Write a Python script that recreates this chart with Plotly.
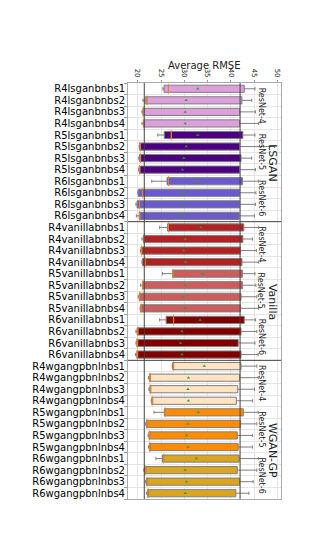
import plotly.graph_objects as go

# row labels, top to bottom
names = [
    "R4lsganbnbs1", "R4lsganbnbs2", "R4lsganbnbs3", "R4lsganbnbs4",
    "R5lsganbnbs1", "R5lsganbnbs2", "R5lsganbnbs3", "R5lsganbnbs4",
    "R6lsganbnbs1", "R6lsganbnbs2", "R6lsganbnbs3", "R6lsganbnbs4",
    "R4vanillabnbs1", "R4vanillabnbs2", "R4vanillabnbs3", "R4vanillabnbs4",
    "R5vanillabnbs1", "R5vanillabnbs2", "R5vanillabnbs3", "R5vanillabnbs4",
    "R6vanillabnbs1", "R6vanillabnbs2", "R6vanillabnbs3", "R6vanillabnbs4",
    "R4wgangpbnlnbs1", "R4wgangpbnlnbs2", "R4wgangpbnlnbs3", "R4wgangpbnlnbs4",
    "R5wgangpbnlnbs1", "R5wgangpbnlnbs2", "R5wgangpbnlnbs3", "R5wgangpbnlnbs4",
    "R6wgangpbnlnbs1", "R6wgangpbnlnbs2", "R6wgangpbnlnbs3", "R6wgangpbnlnbs4",
]

whislo = [25.4, 21.1, 20.9, 20.9, 24.3, 20.3, 20.2, 20.2, 23.0, 20.0, 19.6, 19.7,
          24.7, 20.9, 20.6, 20.9, 25.3, 20.6, 20.1, 20.5, 24.7, 19.6, 19.6, 19.5,
          27.4, 22.3, 22.4, 22.9, 23.5, 21.7, 22.2, 22.3, 23.9, 21.3, 21.7, 21.9]
q1 = [25.65, 21.6, 21.1, 21.2, 25.7, 20.4, 20.4, 20.3, 26.3, 20.1, 19.85, 20.3,
      26.4, 21.2, 20.7, 21.0, 27.5, 21.0, 20.3, 20.6, 26.1, 19.85, 19.8, 19.8,
      27.5, 22.5, 22.6, 23.0, 25.7, 21.85, 22.4, 22.5, 25.3, 21.5, 21.85, 22.1]
med = [26.6, 22.0, 21.2, 21.3, 27.2, 20.5, 20.6, 20.4, 26.6, 21.0, 20.35, 20.4,
       26.6, 21.4, 20.8, 21.6, 27.6, 21.1, 20.4, 20.7, 27.7, 20.0, 19.9, 19.9,
       27.7, 22.6, 22.7, 23.1, 25.9, 22.0, 22.5, 22.6, 25.6, 21.6, 22.0, 22.2]
means = [32.9, 30.4, 30.2, 30.2, 32.9, 30.4, 29.9, 29.6, 32.8, 29.7, 29.4, 29.3,
         33.6, 30.2, 29.9, 30.3, 34.0, 30.2, 29.9, 30.2, 33.4, 29.5, 29.2, 29.5,
         34.3, 30.9, 30.8, 30.9, 33.0, 30.8, 30.5, 30.8, 32.6, 30.2, 30.5, 30.2]
q3 = [42.9, 42.4, 41.9, 41.9, 42.6, 41.9, 42.2, 41.9, 42.5, 41.9, 41.9, 41.8,
      42.8, 42.6, 42.1, 42.4, 42.5, 42.5, 42.2, 42.1, 42.9, 42.2, 41.6, 42.2,
      42.2, 41.9, 41.5, 41.2, 42.7, 42.1, 41.4, 41.6, 41.8, 41.4, 41.9, 41.1]
whishi = [45.2, 44.5, 45.3, 46.0, 45.2, 49.4, 44.5, 45.3, 46.0, 45.4, 45.3, 45.1,
          46.0, 44.7, 45.5, 46.0, 45.2, 45.4, 45.6, 46.0, 45.3, 45.6, 45.2, 45.9,
          45.6, 45.9, 45.1, 44.7, 45.9, 45.6, 44.7, 44.7, 46.0, 45.6, 44.8, 43.9]

# one colour per (architecture, loss) block of four rows
block_colors = ["#DDA0DD", "#4B0082", "#6A5ACD",
                "#B22222", "#CD5C5C", "#800000",
                "#FFE4C4", "#FF8C00", "#DAA520"]
resnets = ["ResNet-4", "ResNet-5", "ResNet-6"] * 3
groups = ["LSGAN", "Vanilla", "WGAN-GP"]
group_label_pos = [7.4, 19.4, 32.3]
ref_lines = [21.4, 42.0]

pos = list(range(1, len(names) + 1))

fig = go.Figure()
for b, col in enumerate(block_colors):
    s = slice(4 * b, 4 * b + 4)
    fig.add_trace(go.Box(
        y=pos[s], q1=q1[s], median=med[s], q3=q3[s],
        lowerfence=whislo[s], upperfence=whishi[s],
        orientation="h", fillcolor=col, line=dict(color="#7f7f7f", width=1),
        width=0.62, whiskerwidth=0.45, boxpoints=False, hoverinfo="skip",
        showlegend=False))

# medians (orange) and means (green triangles)
fig.add_trace(go.Scatter(x=med, y=pos, mode="markers", showlegend=False,
                         marker=dict(symbol="line-ns", size=7,
                                     line=dict(color="#ff7f0e", width=1))))
fig.add_trace(go.Scatter(x=means, y=pos, mode="markers", showlegend=False,
                         marker=dict(symbol="triangle-up", size=3, color="#2ca02c")))

for v in ref_lines:
    fig.add_vline(x=v, line=dict(color="#444444", width=1))
for k in (12.5, 24.5):
    fig.add_hline(y=k, line=dict(color="#444444", width=1))

for b, lab in enumerate(resnets):
    fig.add_annotation(x=46.6, y=4 * b + 2.5, text=lab, textangle=90, showarrow=False,
                       font=dict(size=8, color="#222222"))
for g, lab in enumerate(groups):
    fig.add_annotation(x=1.0, xref="paper", y=group_label_pos[g], text=lab, textangle=90,
                       showarrow=False, font=dict(size=11, color="#222222"))

# axis title placed by hand, just above the rotated tick labels
fig.add_annotation(x=0.5, xref="paper", y=1.041, yref="paper", yanchor="middle",
                   text="Average RMSE", showarrow=False, font=dict(size=10, color="#222222"))

fig.update_layout(
    width=320, height=556,
    margin=dict(l=128, r=39, t=83, b=57),
    plot_bgcolor="white", paper_bgcolor="white",
    font=dict(family="DejaVu Sans", color="#222222"),
    xaxis=dict(side="top", range=[17.9, 50.8], tickvals=[20, 25, 30, 35, 40, 45, 50],
               tickangle=90, tickfont=dict(size=7), ticks="outside", ticklen=2,
               tickcolor="#999999", showgrid=True, gridcolor="#e4e4e4", zeroline=False,
               showline=True, linecolor="#aaaaaa", mirror=True),
    yaxis=dict(range=[36.5, 0.5], tickvals=pos, ticktext=names, tickfont=dict(size=10, color="black"),
               ticks="", showgrid=False, zeroline=False,
               showline=True, linecolor="#aaaaaa", mirror=True,
               minor=dict(tick0=0.5, dtick=1, showgrid=True, gridcolor="#e4e4e4",
                          ticks="outside", ticklen=3, tickcolor="#999999")),
)

# page body margin would shift the figure by 8px
fig.write_html("out.html", config={"displayModeBar": False},
               post_script="document.body.style.margin='0';")
